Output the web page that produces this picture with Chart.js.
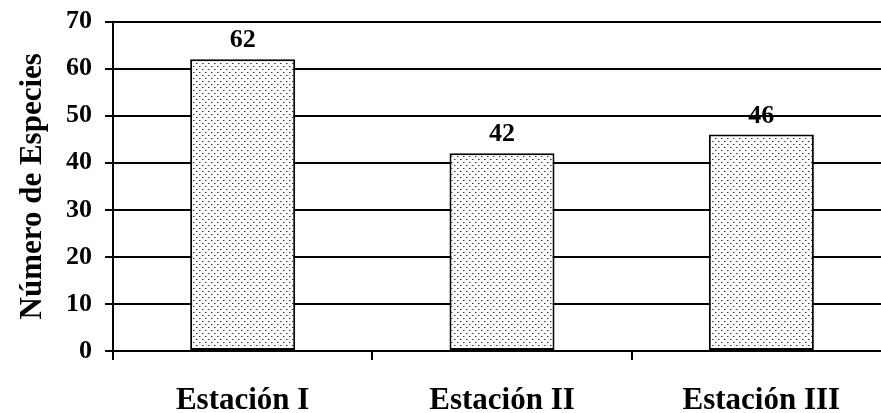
<!DOCTYPE html>
<html lang="es">
<head>
  <meta charset="UTF-8" />
  <title>Número de Especies por Estación</title>
  <script src="https://cdn.jsdelivr.net/npm/chart.js"></script>
  <style>
    body { margin: 0; background: #fff; overflow: hidden; }
    #wrap { position: absolute; left: 0; top: -7px; width: 893px; height: 420px; }
  </style>
</head>
<body>
  <div id="wrap"><canvas id="barChart" width="893" height="420"></canvas></div>

  <script>
    const estaciones = ['Estación I', 'Estación II', 'Estación III'];
    const especies = [62, 42, 46];
    const yTicks = [0, 10, 20, 30, 40, 50, 60, 70];

    const serif = '"Liberation Serif", "Times New Roman", serif';

    // dotted fill like the original
    function dotPattern() {
      const c = document.createElement('canvas');
      c.width = 6; c.height = 6;
      const g = c.getContext('2d');
      g.fillStyle = '#fff';
      g.fillRect(0, 0, 6, 6);
      g.fillStyle = '#333';
      g.fillRect(1, 1, 1, 1);
      g.fillRect(4, 4, 1, 1);
      g.fillStyle = '#999';
      g.fillRect(2, 1, 1, 1);
      g.fillRect(5, 4, 1, 1);
      return g.createPattern(c, 'repeat');
    }

    // value printed above each bar
    const valueLabels = {
      id: 'valueLabels',
      afterDatasetsDraw(chart) {
        const ctx = chart.ctx;
        const meta = chart.getDatasetMeta(0);
        ctx.save();
        ctx.font = 'bold 26px ' + serif;
        ctx.fillStyle = '#000';
        ctx.textAlign = 'center';
        ctx.textBaseline = 'alphabetic';
        meta.data.forEach((bar, i) => {
          ctx.fillText(String(especies[i]), bar.x, bar.y - 12);
        });
        ctx.restore();
      }
    };

    new Chart(document.getElementById('barChart'), {
      type: 'bar',
      data: {
        labels: estaciones,
        datasets: [{
          data: especies,
          backgroundColor: dotPattern(),
          borderColor: '#000',
          borderWidth: 2,
          borderSkipped: false,
          barPercentage: 0.405,
          categoryPercentage: 1
        }]
      },
      options: {
        responsive: false,
        animation: false,
        layout: { padding: { top: 14, right: 2, left: 0, bottom: 0 } },
        plugins: {
          legend: { display: false },
          tooltip: { enabled: false }
        },
        scales: {
          x: {
            offset: true,
            grid: {
              offset: true,
              drawOnChartArea: false,
              color: '#000',
              lineWidth: 2,
              tickLength: 9
            },
            border: { color: '#000', width: 2 },
            ticks: {
              color: '#000',
              font: { family: serif, size: 31, weight: 'bold' },
              padding: 22,
              maxRotation: 0
            },
            afterFit(scale) { scale.height = 62; }
          },
          y: {
            min: 0,
            max: 70,
            afterBuildTicks(scale) { scale.ticks = yTicks.map(v => ({ value: v })); },
            grid: {
              color: '#000',
              lineWidth: 2,
              tickLength: 8
            },
            border: { color: '#000', width: 2 },
            ticks: {
              color: '#000',
              font: { family: serif, size: 26, weight: 'bold' },
              padding: 13
            },
            title: {
              display: true,
              text: 'Número de Especies',
              color: '#000',
              font: { family: serif, size: 31, weight: 'bold' },
              padding: { top: 14, bottom: 0 }
            },
            afterFit(scale) { scale.width = 113; }
          }
        }
      },
      plugins: [valueLabels]
    });
  </script>
</body>
</html>
